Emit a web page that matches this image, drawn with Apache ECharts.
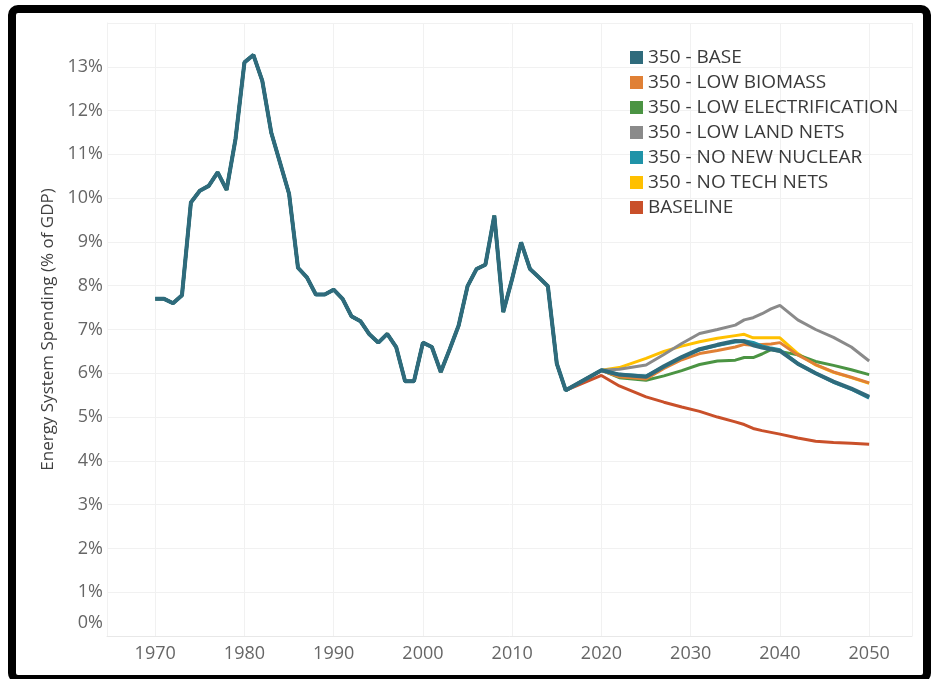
<!DOCTYPE html>
<html>
<head>
<meta charset="utf-8">
<title>Energy System Spending</title>
<script src="https://cdn.jsdelivr.net/npm/echarts@6/dist/echarts.min.js"></script>
<style>
  html, body { margin: 0; padding: 0; background: #fff; }
  #chart { width: 932px; height: 679px; }
</style>
</head>
<body>
<div id="chart"></div>
<script>
// historical spending, shared by every scenario
const histYears = [1970, 1971, 1972, 1973, 1974, 1975, 1976, 1977, 1978, 1979,
  1980, 1981, 1982, 1983, 1984, 1985, 1986, 1987, 1988, 1989,
  1990, 1991, 1992, 1993, 1994, 1995, 1996, 1997, 1998, 1999,
  2000, 2001, 2002, 2003, 2004, 2005, 2006, 2007, 2008, 2009,
  2010, 2011, 2012, 2013, 2014, 2015, 2016];
const histValues = [7.70, 7.70, 7.60, 7.78, 9.90, 10.17, 10.28, 10.59, 10.19, 11.35,
  13.10, 13.27, 12.68, 11.50, 10.80, 10.10, 8.41, 8.19, 7.80, 7.80,
  7.91, 7.70, 7.30, 7.19, 6.89, 6.70, 6.90, 6.60, 5.82, 5.82,
  6.70, 6.60, 6.03, 6.55, 7.09, 7.99, 8.38, 8.48, 9.60, 7.40,
  8.16, 8.99, 8.38, 8.19, 7.99, 6.22, 5.61];

// projections
const futureYears = [2020, 2022, 2025, 2027, 2029, 2031, 2033, 2035, 2036, 2037, 2038, 2039, 2040, 2042, 2044, 2046, 2048, 2050];
const base        = [6.07, 5.97, 5.92, 6.16, 6.37, 6.55, 6.65, 6.74, 6.73, 6.64, 6.59, 6.55, 6.51, 6.22, 6.00, 5.81, 5.65, 5.46];
const lowBiomass  = [6.06, 5.92, 5.87, 6.11, 6.31, 6.45, 6.52, 6.60, 6.66, 6.64, 6.66, 6.67, 6.70, 6.42, 6.20, 6.03, 5.91, 5.78];
const lowElec     = [6.07, 5.90, 5.84, 5.94, 6.06, 6.20, 6.28, 6.30, 6.36, 6.36, 6.44, 6.54, 6.50, 6.42, 6.27, 6.18, 6.08, 5.97];
const lowLandNets = [6.07, 6.09, 6.19, 6.43, 6.68, 6.91, 7.00, 7.10, 7.22, 7.27, 7.36, 7.47, 7.55, 7.22, 7.00, 6.82, 6.60, 6.28];
const noNuclear   = [6.07, 5.97, 5.93, 6.15, 6.36, 6.54, 6.64, 6.72, 6.74, 6.70, 6.62, 6.57, 6.53, 6.22, 6.00, 5.80, 5.64, 5.44];
const noTechNets  = [6.07, 6.13, 6.34, 6.50, 6.62, 6.72, 6.80, 6.86, 6.89, 6.81, 6.81, 6.81, 6.81, 6.45, 6.19, 6.02, 5.90, 5.77];
const baseline    = [5.95, 5.71, 5.46, 5.34, 5.23, 5.13, 5.00, 4.89, 4.83, 4.74, 4.69, 4.65, 4.61, 4.52, 4.45, 4.42, 4.40, 4.38];

const legendNames = ['350 - BASE', '350 - LOW BIOMASS', '350 - LOW ELECTRIFICATION',
  '350 - LOW LAND NETS', '350 - NO NEW NUCLEAR', '350 - NO TECH NETS', 'BASELINE'];

const makeData = (vals) => {
  const pts = histYears.map((y, i) => [y, histValues[i]]);
  futureYears.forEach((y, i) => pts.push([y, vals[i]]));
  return pts;
};

const makeSeries = (name, vals, color, width) => ({
  name: name,
  type: 'line',
  data: makeData(vals),
  showSymbol: false,
  symbol: 'none',
  color: color,
  lineStyle: { color: color, width: width },
  emphasis: { disabled: true }
});

let myChart = echarts.init(document.getElementById('chart'));
myChart.setOption({
  animation: false,
  textStyle: { fontFamily: 'Open Sans' },
  grid: { left: 107, right: 20, top: 23, bottom: 43 },
  legend: {
    data: legendNames,
    orient: 'vertical',
    left: 625,
    top: 43,
    icon: 'rect',
    itemWidth: 13,
    itemHeight: 13,
    itemGap: 6,
    textStyle: { fontSize: 19, color: '#3a3a3a', fontFamily: 'Open Sans' }
  },
  xAxis: {
    type: 'value',
    min: 1964.6,
    max: 2054.8,
    splitNumber: 9,
    axisLine: { show: true, lineStyle: { color: '#e8e8e8' } },
    axisTick: { show: false },
    axisLabel: {
      showMinLabel: false,
      showMaxLabel: false,
      margin: 9,
      fontSize: 18,
      color: '#666',
      formatter: (v) => String(v)
    },
    splitLine: { show: true, lineStyle: { color: '#f1f1f1' } }
  },
  yAxis: {
    type: 'value',
    min: 0,
    max: 14,
    interval: 1,
    name: 'Energy System Spending (% of GDP)',
    nameLocation: 'middle',
    nameRotate: 90,
    nameGap: 50,
    nameTextStyle: { fontSize: 17, color: '#404040' },
    axisLine: { show: true, lineStyle: { color: '#f1f1f1' } },
    axisTick: { show: false },
    axisLabel: {
      showMaxLabel: false,
      margin: 4,
      fontSize: 18,
      color: '#666',
      formatter: (v) => (v === 0 ? '{z|0%}' : v + '%'),
      rich: { z: { fontSize: 18, color: '#666', padding: [0, 0, 26, 0] } }
    },
    splitLine: { show: true, lineStyle: { color: '#f1f1f1' } }
  },
  graphic: [{
    type: 'rect',
    shape: { x: 12, y: 9, width: 915, height: 670, r: 6 },
    style: { fill: 'none', stroke: '#000', lineWidth: 8 },
    silent: true,
    z: 100
  }],
  // drawing order: first is bottom
  series: [
    makeSeries('BASELINE', baseline, '#c9502a', 3),
    makeSeries('350 - NO TECH NETS', noTechNets, '#ffc000', 3),
    makeSeries('350 - LOW LAND NETS', lowLandNets, '#8a8a8a', 3),
    makeSeries('350 - LOW ELECTRIFICATION', lowElec, '#4b9443', 3),
    makeSeries('350 - LOW BIOMASS', lowBiomass, '#e08035', 3),
    makeSeries('350 - NO NEW NUCLEAR', noNuclear, '#1f93a8', 3.5),
    makeSeries('350 - BASE', base, '#2f6b7c', 4)
  ]
});
</script>
</body>
</html>
